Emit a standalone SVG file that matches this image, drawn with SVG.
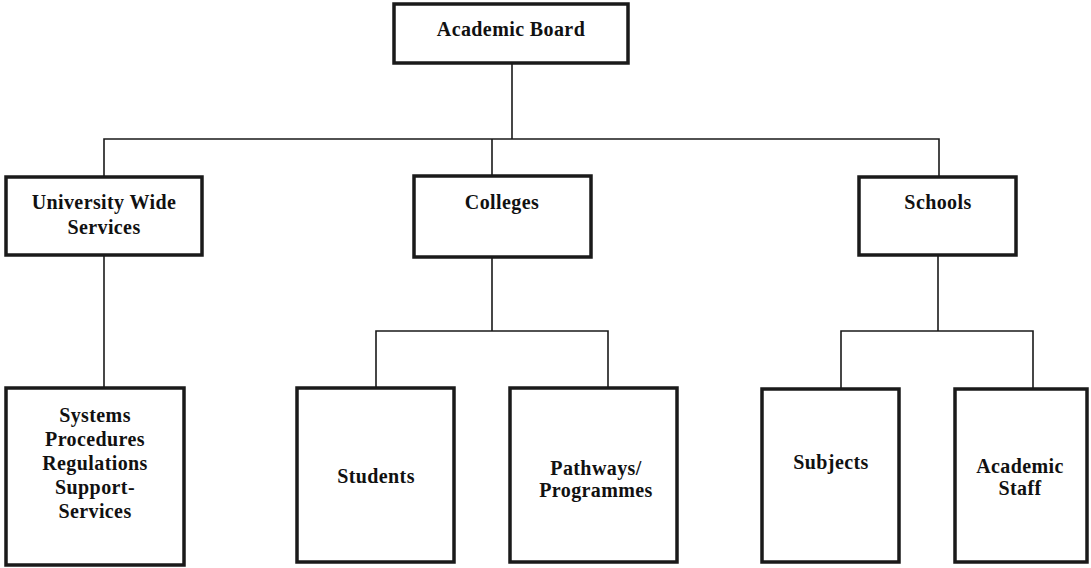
<svg xmlns="http://www.w3.org/2000/svg" width="1091" height="568" viewBox="0 0 1091 568">
  <style>
    .box { fill: #ffffff; stroke: #1a1a1a; stroke-width: 3.5; }
    .link { fill: none; stroke: #1a1a1a; stroke-width: 1.6; }
    .label { font-family: "Liberation Serif", "Times New Roman", "DejaVu Serif", serif; font-weight: bold; font-size: 20px; letter-spacing: 0.4px; fill: #111111; text-anchor: middle; }
  </style>
  <rect width="1091" height="568" fill="#ffffff"/>

  <!-- connectors -->
  <g id="connectors">
    <path class="link" d="M512 63 V139 M104 177 V139 H939 V177 M492 139 V176"/>
    <path class="link" d="M104 255 V388"/>
    <path class="link" d="M492 257 V331 M376 388 V331 H608 V388"/>
    <path class="link" d="M938 255 V331 M841 389 V331 H1033 V389"/>
  </g>

  <g id="academic-board">
    <rect class="box" x="394" y="4" width="234" height="59"/>
    <text class="label" x="511" y="36">Academic Board</text>
  </g>

  <g id="university-wide-services">
    <rect class="box" x="6" y="177" width="196" height="78"/>
    <text class="label" x="104" y="209">University Wide</text>
    <text class="label" x="104" y="234">Services</text>
  </g>

  <g id="colleges">
    <rect class="box" x="414" y="176" width="177" height="81"/>
    <text class="label" x="502" y="209">Colleges</text>
  </g>

  <g id="schools">
    <rect class="box" x="859" y="177" width="157" height="78"/>
    <text class="label" x="938" y="209">Schools</text>
  </g>

  <g id="systems">
    <rect class="box" x="6" y="388" width="178" height="177"/>
    <text class="label" x="95" y="422">Systems</text>
    <text class="label" x="95" y="446">Procedures</text>
    <text class="label" x="95" y="470">Regulations</text>
    <text class="label" x="95" y="494">Support-</text>
    <text class="label" x="95" y="518">Services</text>
  </g>

  <g id="students">
    <rect class="box" x="297" y="388" width="157" height="174"/>
    <text class="label" x="376" y="483">Students</text>
  </g>

  <g id="pathways">
    <rect class="box" x="510" y="388" width="167" height="174"/>
    <text class="label" x="596" y="475">Pathways/</text>
    <text class="label" x="596" y="497">Programmes</text>
  </g>

  <g id="subjects">
    <rect class="box" x="762" y="389" width="137" height="173"/>
    <text class="label" x="831" y="469">Subjects</text>
  </g>

  <g id="academic-staff">
    <rect class="box" x="955" y="389" width="132" height="173"/>
    <text class="label" x="1020" y="473">Academic</text>
    <text class="label" x="1020" y="495">Staff</text>
  </g>
</svg>
